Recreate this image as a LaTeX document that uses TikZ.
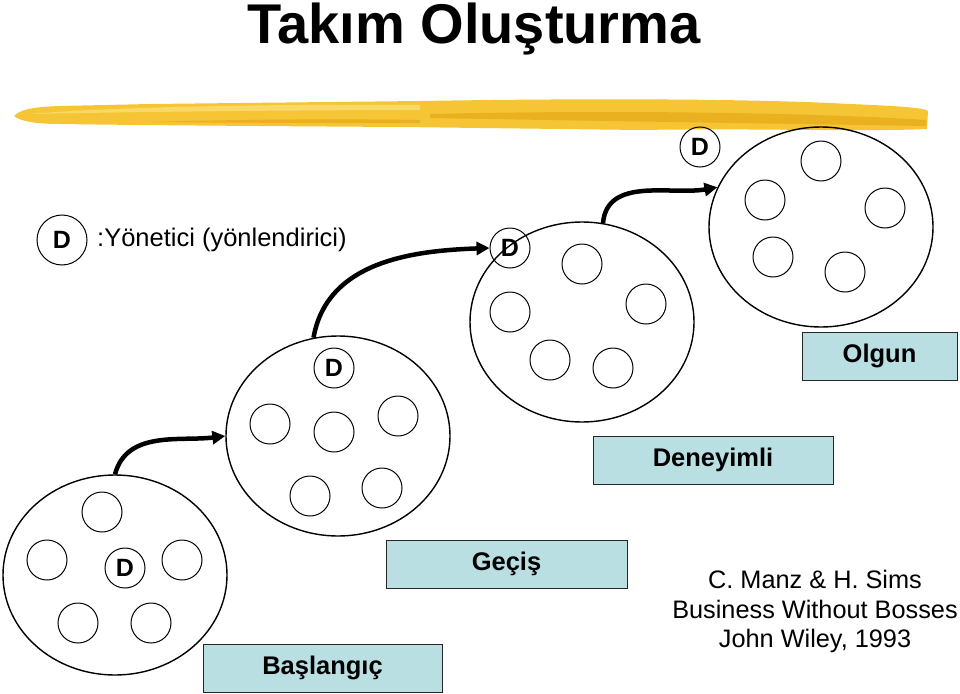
\documentclass[tikz,border=0pt]{standalone}
\usepackage{fontspec}
\setmainfont{Liberation Sans}
\usetikzlibrary{shapes.geometric,arrows.meta}
\definecolor{stagefill}{HTML}{B9DFE3}
\definecolor{brushmain}{HTML}{F5C535}
\definecolor{brushdark}{HTML}{E9B020}
\definecolor{brushlight}{HTML}{F9D865}

\begin{document}
\begin{tikzpicture}[x=1pt,y=1pt]
    \tikzset{
        group/.style={draw, line width=1.4pt, ellipse, inner sep=0pt, minimum width=224pt, minimum height=200pt},
        member/.style={draw, line width=1pt, circle, inner sep=0pt, minimum size=40pt},
        leader/.style={member, font=\fontsize{25}{28}\selectfont\bfseries},
        stage/.style={draw=black!85, line width=1pt, fill=stagefill, inner sep=0pt, minimum height=48pt, font=\fontsize{25.5}{28}\selectfont\bfseries},
        move/.style={line width=4.5pt, -{Triangle[length=13pt,width=13pt]}},
        cite/.style={anchor=base, font=\fontsize{25.3}{28}\selectfont}
    };
    \useasboundingbox (0,0) rectangle (960,-693);

    % title and brush stroke
    \node[anchor=base, inner sep=0pt, font=\fontsize{56}{60}\selectfont\bfseries] (title) at (474,-44) {Takım Oluşturma};
    \fill[brushmain] (14,-116) .. controls (20,-110) and (30,-107) .. (60,-106) -- (150,-104) -- (420,-101)
        .. controls (600,-98) and (760,-99) .. (850,-104) .. controls (900,-106) and (925,-108) .. (928,-111)
        -- (927,-129) .. controls (860,-132) and (760,-128) .. (640,-130) -- (400,-127)
        .. controls (250,-126) and (120,-125) .. (60,-124) .. controls (35,-124) and (20,-121) .. (14,-116) -- cycle;
    \fill[brushlight] (30,-114) .. controls (120,-106) and (300,-104) .. (420,-105) -- (420,-110) .. controls (300,-110) and (120,-112) .. (30,-114) -- cycle;
    \fill[brushdark] (430,-114) .. controls (600,-110) and (800,-112) .. (926,-120) -- (926,-126) .. controls (800,-124) and (600,-121) .. (430,-118) -- cycle;
    \fill[brushdark] (150,-122) .. controls (250,-119) and (350,-119) .. (420,-120) -- (420,-123) .. controls (350,-123) and (250,-123) .. (150,-122) -- cycle;

    % legend
    \node[leader, minimum size=50pt] (d0) at (62,-240) {D};
    \node[anchor=west, inner sep=0pt, font=\fontsize{25.5}{28}\selectfont] (legend) at (97,-240) {:Yönetici (yönlendirici)};

    % groups
    \node[group] (g1) at (115,-575) {};
    \node[group] (g2) at (338,-436) {};
    \node[group] (g3) at (582,-322) {};
    \node[group] (g4) at (821,-227) {};

    \foreach \p [count=\i] in {(102,-512),(47,-560),(182,-560),(78,-623),(151,-623)}
        \node[member] (m1\i) at \p {};
    \foreach \p [count=\i] in {(270,-424),(334,-432),(398,-416),(310,-496),(382,-488)}
        \node[member] (m2\i) at \p {};
    \foreach \p [count=\i] in {(582,-264),(510,-312),(646,-304),(550,-360),(613,-368)}
        \node[member] (m3\i) at \p {};
    \foreach \p [count=\i] in {(821,-161),(765,-200),(885,-208),(773,-257),(845,-272)}
        \node[member] (m4\i) at \p {};

    \node[leader] (d1) at (125,-568) {D};
    \node[leader] (d2) at (334,-368) {D};
    \node[leader] (d3) at (510,-248) {D};
    \node[leader] (d4) at (700,-147) {D};

    % moves
    \draw[move] (g1.north) to[out=75, in=187] (g2.west);
    \draw[move] (g2.104) to[out=80, in=182] (d3.west);
    \draw[move] (g3.78) to[out=85, in=190] (g4.159);

    % stages
    \node[stage, minimum width=239pt] (start) at (322.5,-668) {Başlangıç};
    \node[stage, minimum width=241pt] (trans) at (506.5,-564) {Geçiş};
    \node[stage, minimum width=240pt] (exper) at (713,-460) {Deneyimli};
    \node[stage, minimum width=155pt] (mature) at (879.5,-356) {Olgun};

    % source
    \node[cite] (cite1) at (815,-588) {C. Manz \& H. Sims};
    \node[cite] (cite2) at (815,-618) {Business Without Bosses};
    \node[cite] (cite3) at (815,-647) {John Wiley, 1993};
\end{tikzpicture}
\end{document}
